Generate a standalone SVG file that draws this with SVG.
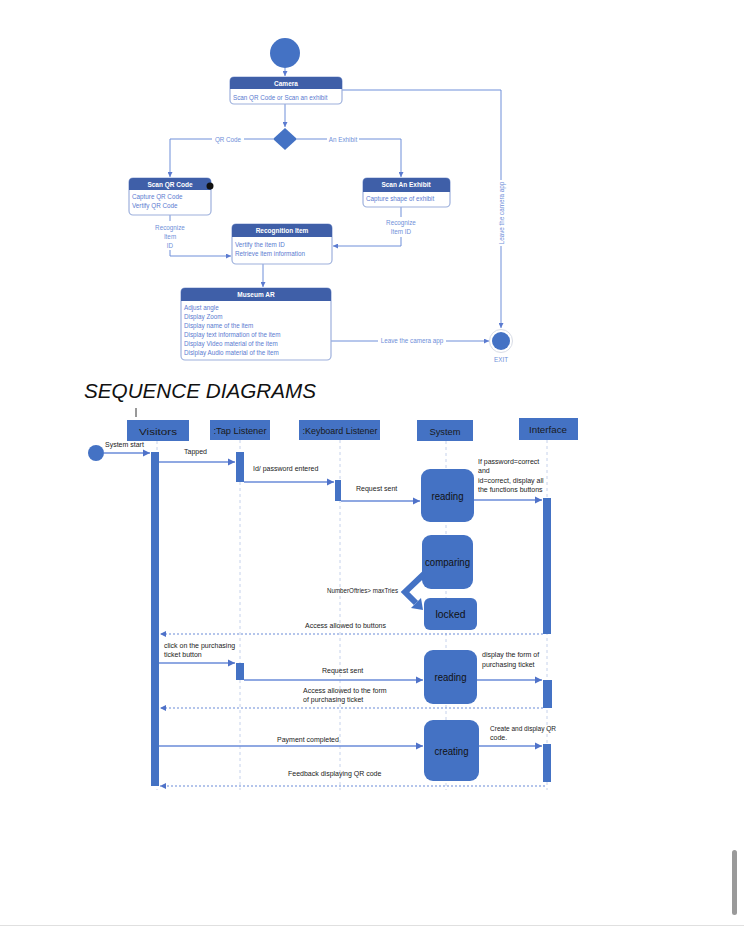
<svg xmlns="http://www.w3.org/2000/svg" width="744" height="926" viewBox="0 0 744 926">
<defs>
<style>
.ln{fill:none;stroke:#6f8fd9;stroke-width:1}
.hdr{fill:#3f5fa8}
.body{fill:#fff;stroke:#9db0dc;stroke-width:1.2}
.ht{font-family:"Liberation Sans",Arial,sans-serif;font-size:6.5px;font-weight:bold;fill:#fff;text-anchor:middle}
.bt{font-family:"Liberation Sans",Arial,sans-serif;font-size:6.3px;fill:#5b7bd0}
.lt{font-family:"Liberation Sans",Arial,sans-serif;font-size:6.3px;fill:#6f8fd9}
.lb{fill:#4472c4}
.sl{fill:none;stroke:#6a8bd8;stroke-width:1.5}
.ret{fill:none;stroke:#6a8bd8;stroke-width:1.2;stroke-dasharray:2 2}
.life{fill:none;stroke:#b8c6e6;stroke-width:0.8;stroke-dasharray:3 3}
.hd{font-family:"Liberation Sans",Arial,sans-serif;font-size:9.5px;fill:#1a1a1a;text-anchor:middle}
.st{font-family:"Liberation Sans",Arial,sans-serif;font-size:7px;fill:#1a1a1a}
.bx{font-family:"Liberation Sans",Arial,sans-serif;font-size:10.5px;fill:#111;text-anchor:middle}
</style>
<marker id="a1" viewBox="0 0 10 10" refX="10" refY="5" markerWidth="5" markerHeight="5" orient="auto"><path d="M0,0 L10,5 L0,10 Z" fill="#5b7bd0"/></marker>
<marker id="a2" viewBox="0 0 10 10" refX="10" refY="5" markerWidth="5" markerHeight="5" orient="auto"><path d="M0,0 L10,5 L0,10 Z" fill="#4f72c9"/></marker>
</defs>

<!-- ACTIVITY DIAGRAM -->
<g id="connectors-activity">
<line class="ln" x1="285" y1="68" x2="285" y2="76" marker-end="url(#a1)"/>
<line class="ln" x1="285" y1="104" x2="285" y2="127" marker-end="url(#a1)"/>
<polyline class="ln" points="273,139 170,139 170,177" marker-end="url(#a1)"/>
<polyline class="ln" points="297,139 401,139 401,177" marker-end="url(#a1)"/>
<polyline class="ln" points="342,90 501,90 501,328" marker-end="url(#a1)"/>
<polyline class="ln" points="170,215 170,221"/>
<polyline class="ln" points="170,250 170,256 231,256" marker-end="url(#a1)"/>
<polyline class="ln" points="401,207 401,217"/>
<polyline class="ln" points="401,237 401,246 333,246" marker-end="url(#a1)"/>
<line class="ln" x1="263" y1="264" x2="263" y2="287" marker-end="url(#a1)"/>
<line class="ln" x1="331" y1="341" x2="489" y2="341" marker-end="url(#a1)"/>
<rect x="212" y="135" width="32" height="8" fill="#fff"/>
<text class="lt" x="228" y="141.5" text-anchor="middle">QR Code</text>
<rect x="327" y="135" width="32" height="8" fill="#fff"/>
<text class="lt" x="343" y="141.5" text-anchor="middle">An Exhibit</text>
<rect x="497" y="180" width="8" height="66" fill="#fff"/>
<text class="lt" transform="translate(503.5,213) rotate(-90)" text-anchor="middle">Leave the camera app</text>
<rect x="378" y="337" width="68" height="8" fill="#fff"/>
<text class="lt" x="412" y="343.3" text-anchor="middle">Leave the camera app</text>
<text class="lt" x="170" y="230" text-anchor="middle">Recognize</text>
<text class="lt" x="170" y="239" text-anchor="middle">Item</text>
<text class="lt" x="170" y="248" text-anchor="middle">ID</text>
<text class="lt" x="401" y="225" text-anchor="middle">Recognize</text>
<text class="lt" x="401" y="234" text-anchor="middle">Item ID</text>
</g>

<g id="start">
<circle cx="285" cy="53" r="15" fill="#4472c4"/>
</g>
<g id="camera">
<rect class="body" x="230" y="77" width="112" height="27" rx="4"/>
<path class="hdr" d="M230,89 V81 Q230,77 234,77 H338 Q342,77 342,81 V89 Z"/>
<text class="ht" x="286" y="85.5">Camera</text>
<text class="bt" x="233" y="99.5">Scan QR Code or Scan an exhibit</text>
</g>
<g id="decision">
<polygon points="285,128 297,139 285,150 273,139" fill="#4472c4"/>
</g>
<g id="scan-qr">
<rect class="body" x="129" y="178" width="82" height="37" rx="4"/>
<path class="hdr" d="M129,190 V182 Q129,178 133,178 H207 Q211,178 211,182 V190 Z"/>
<text class="ht" x="170" y="186.5">Scan QR Code</text>
<text class="bt" x="132" y="199">Capture QR Code</text>
<text class="bt" x="132" y="208">Vertify QR Code</text>
<circle cx="210" cy="186" r="3.5" fill="#111"/>
</g>
<g id="scan-exhibit">
<rect class="body" x="363" y="178" width="87" height="29" rx="4"/>
<path class="hdr" d="M363,192 V182 Q363,178 367,178 H446 Q450,178 450,182 V192 Z"/>
<text class="ht" x="406" y="187">Scan An Exhibit</text>
<text class="bt" x="366" y="201">Capture shape of exhibit</text>
</g>
<g id="recognition">
<rect class="body" x="232" y="224" width="100" height="40" rx="4"/>
<path class="hdr" d="M232,237 V228 Q232,224 236,224 H328 Q332,224 332,228 V237 Z"/>
<text class="ht" x="282" y="233">Recognition Item</text>
<text class="bt" x="235" y="247">Vertify the item ID</text>
<text class="bt" x="235" y="256">Retrieve item information</text>
</g>
<g id="museum-ar">
<rect class="body" x="181" y="288" width="150" height="72" rx="4"/>
<path class="hdr" d="M181,301 V292 Q181,288 185,288 H327 Q331,288 331,292 V301 Z"/>
<text class="ht" x="256" y="297">Museum AR</text>
<text class="bt" x="184" y="310">Adjust angle</text>
<text class="bt" x="184" y="319">Display Zoom</text>
<text class="bt" x="184" y="328">Display name of the item</text>
<text class="bt" x="184" y="337">Display text information of the item</text>
<text class="bt" x="184" y="346">Display Video material of the item</text>
<text class="bt" x="184" y="355">Dislplay Audio material of the item</text>
</g>
<g id="exit">
<circle cx="501" cy="341" r="11.5" fill="#fff" stroke="#d8dce6" stroke-width="1"/>
<circle cx="501" cy="341" r="9" fill="#4472c4"/>
<text class="lt" x="501" y="362" text-anchor="middle">EXIT</text>
</g>

<!-- TITLE -->
<text x="84" y="398" font-family="Liberation Sans,Arial,sans-serif" font-size="20" font-style="italic" fill="#111" textLength="232" lengthAdjust="spacingAndGlyphs">SEQUENCE DIAGRAMS</text>
<line x1="136" y1="408" x2="136" y2="417" stroke="#333" stroke-width="1"/>

<!-- SEQUENCE DIAGRAM -->
<g id="lifelines">
<line class="life" x1="157" y1="441" x2="157" y2="790"/>
<line class="life" x1="240" y1="440" x2="240" y2="790"/>
<line class="life" x1="340" y1="440" x2="340" y2="790"/>
<line class="life" x1="446" y1="441" x2="446" y2="790"/>
<line class="life" x1="547" y1="440" x2="547" y2="790"/>
</g>
<g id="visitors">
<rect class="lb" x="127" y="420" width="62" height="21"/>
<text class="hd" x="158" y="434.5" textLength="38" lengthAdjust="spacingAndGlyphs">Visitors</text>
<rect class="lb" x="151" y="452" width="8" height="334"/>
</g>
<g id="tap-listener">
<rect class="lb" x="210" y="420" width="60" height="20"/>
<text class="hd" x="240" y="433.5" textLength="53" lengthAdjust="spacingAndGlyphs">:Tap Listener</text>
<rect class="lb" x="236" y="452" width="8" height="30"/>
<rect class="lb" x="236" y="663" width="8" height="17"/>
</g>
<g id="keyboard-listener">
<rect class="lb" x="299" y="420" width="81" height="20"/>
<text class="hd" x="340" y="433.5" textLength="75" lengthAdjust="spacingAndGlyphs">:Keyboard Listener</text>
<rect class="lb" x="335" y="480" width="6" height="21"/>
</g>
<g id="system">
<rect class="lb" x="417" y="420" width="56" height="21"/>
<text class="hd" x="445" y="434.5" textLength="31" lengthAdjust="spacingAndGlyphs">System</text>
</g>
<g id="interface">
<rect class="lb" x="519" y="418" width="59" height="22"/>
<text class="hd" x="548" y="432.5" textLength="38" lengthAdjust="spacingAndGlyphs">Interface</text>
<rect class="lb" x="543" y="498" width="8" height="136"/>
<rect class="lb" x="543" y="680" width="9" height="28"/>
<rect class="lb" x="543" y="744" width="8" height="38"/>
</g>
<g id="sys-start">
<circle cx="96" cy="453" r="8" fill="#4472c4"/>
</g>
<g id="reading-1">
<rect class="lb" x="421" y="469" width="53" height="53" rx="9"/>
<text class="bx" x="447.5" y="500" textLength="32" lengthAdjust="spacingAndGlyphs">reading</text>
</g>
<g id="comparing">
<rect class="lb" x="422" y="535" width="51" height="54" rx="9"/>
<text class="bx" x="447.5" y="566" textLength="45" lengthAdjust="spacingAndGlyphs">comparing</text>
</g>
<g id="locked">
<rect class="lb" x="424" y="598" width="53" height="32" rx="6"/>
<text class="bx" x="450.5" y="618" textLength="30" lengthAdjust="spacingAndGlyphs">locked</text>
</g>
<g id="reading-2">
<rect class="lb" x="424" y="650" width="53" height="54" rx="9"/>
<text class="bx" x="450.5" y="681" textLength="32" lengthAdjust="spacingAndGlyphs">reading</text>
</g>
<g id="creating">
<rect class="lb" x="424" y="720" width="55" height="61" rx="9"/>
<text class="bx" x="451.5" y="755" textLength="34" lengthAdjust="spacingAndGlyphs">creating</text>
</g>

<g id="connectors-sequence">
<line class="sl" x1="104" y1="453" x2="150" y2="453" marker-end="url(#a2)"/>
<text class="st" x="105" y="447">System start</text>
<line class="sl" x1="159" y1="462" x2="235" y2="462" marker-end="url(#a2)"/>
<text class="st" x="184" y="454">Tapped</text>
<line class="sl" x1="244" y1="482" x2="334" y2="482" marker-end="url(#a2)"/>
<text class="st" x="253" y="471">Id/ password entered</text>
<line class="sl" x1="341" y1="501" x2="420" y2="501" marker-end="url(#a2)"/>
<text class="st" x="356" y="491">Request sent</text>
<line class="sl" x1="474" y1="500" x2="542" y2="500" marker-end="url(#a2)"/>
<text class="st" x="478" y="464" font-size="6.3">If password=correct</text>
<text class="st" x="478" y="473" font-size="6.3">and</text>
<text class="st" x="478" y="483" font-size="6.3">id=correct, display all</text>
<text class="st" x="478" y="492" font-size="6.3">the functions buttons</text>
<polyline points="424,574 405,592 416,603" fill="none" stroke="#4472c4" stroke-width="6"/>
<polygon points="423,610 411,608 421,598" fill="#4472c4"/>
<text class="st" x="327" y="593" font-size="6.3" textLength="71" lengthAdjust="spacingAndGlyphs">NumberOftries&gt; maxTries</text>
<line class="ret" x1="543" y1="634" x2="160" y2="634" marker-end="url(#a2)"/>
<text class="st" x="305" y="628">Access allowed to buttons</text>
<text class="st" x="164" y="648" font-size="6.3">click on the purchasing</text>
<text class="st" x="164" y="657" font-size="6.3">ticket button</text>
<line class="sl" x1="159" y1="663" x2="235" y2="663" marker-end="url(#a2)"/>
<line class="sl" x1="244" y1="680" x2="423" y2="680" marker-end="url(#a2)"/>
<text class="st" x="322" y="673" font-size="6.3">Request sent</text>
<line class="sl" x1="477" y1="680" x2="542" y2="680" marker-end="url(#a2)"/>
<text class="st" x="482" y="657" font-size="6.3">display the form of</text>
<text class="st" x="482" y="667" font-size="6.3">purchasing ticket</text>
<text class="st" x="303" y="693" font-size="6.3">Access  allowed to the form</text>
<text class="st" x="303" y="702" font-size="6.3">of purchasing ticket</text>
<line class="ret" x1="543" y1="708" x2="160" y2="708" marker-end="url(#a2)"/>
<line class="sl" x1="159" y1="746" x2="423" y2="746" marker-end="url(#a2)"/>
<text class="st" x="277" y="742" font-size="6.3">Payment completed</text>
<line class="sl" x1="479" y1="746" x2="542" y2="746" marker-end="url(#a2)"/>
<text class="st" x="490" y="731" font-size="6.3" textLength="66" lengthAdjust="spacingAndGlyphs">Create  and display QR</text>
<text class="st" x="490" y="740" font-size="6.3">code.</text>
<text class="st" x="288" y="776">Feedback displaying QR code</text>
<line class="ret" x1="545" y1="786" x2="160" y2="786" marker-end="url(#a2)"/>
</g>

<!-- scrollbar -->
<rect x="732" y="850" width="5" height="65" rx="2.5" fill="#9a9a9a"/>
<line x1="0" y1="925.5" x2="744" y2="925.5" stroke="#e0e0e0" stroke-width="1"/>
</svg>
